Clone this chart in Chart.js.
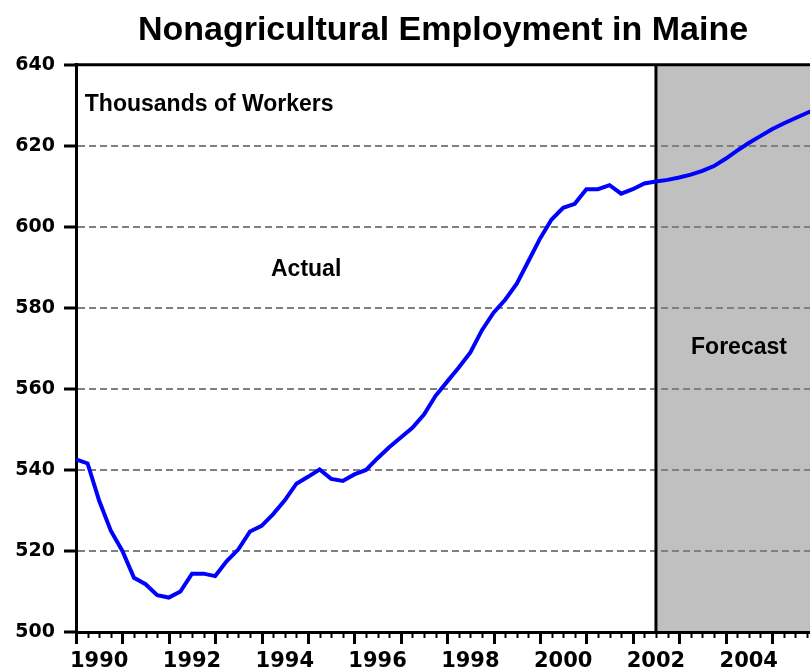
<!DOCTYPE html>
<html>
<head>
<meta charset="utf-8">
<title>Nonagricultural Employment in Maine</title>
<script src="https://cdn.jsdelivr.net/npm/chart.js@4"></script>
<style>
  html, body { margin: 0; padding: 0; background: #fff; }
</style>
</head>
<body>
<canvas id="empChart" width="810" height="671"></canvas>
<script>
// Maine nonfarm employment, quarterly, thousands of workers
const startYear = 1990;           // first quarter = 1990Q1
const actual = [
  542.6, 541.6, 532.4, 525.0, 520.0, 513.4, 511.8, 509.1, 508.5, 510.0,
  514.4, 514.4, 513.8, 517.5, 520.4, 524.8, 526.2, 529.1, 532.5, 536.6,
  538.3, 540.1, 537.8, 537.3, 538.9, 540.0, 542.9, 545.6, 548.0, 550.4,
  553.7, 558.3, 561.8, 565.3, 569.0, 574.5, 578.8, 582.0, 586.0, 591.5,
  597.1, 601.8, 604.7, 605.7, 609.3, 609.3, 610.3, 608.2, 609.3, 610.7,
  611.2
];
const forecast = [
  611.6, 612.2, 612.9, 613.8, 615.0, 616.8, 618.8, 620.7, 622.4, 624.1,
  625.5, 626.8, 628.1, 629.3
];
const xTickYears = [1990, 1992, 1994, 1996, 1998, 2000, 2002, 2004];
const yTicks = [500, 520, 540, 560, 580, 600, 620, 640];
const forecastStart = 2002.5;

const series = actual.concat(forecast);
const points = series.map((v, i) => ({ x: startYear + i / 4, y: v }));

const textFont = 'bold 23px "Liberation Sans", Arial, sans-serif';

const eviewsFrame = {
  id: 'eviewsFrame',
  beforeDraw(chart) {
    const { ctx, chartArea: a, scales: { x } } = chart;
    const fx = x.getPixelForValue(forecastStart);
    ctx.save();
    ctx.fillStyle = '#c0c0c0';
    ctx.fillRect(fx, a.top, a.right - fx, a.bottom - a.top);
    ctx.restore();
  },
  beforeDatasetsDraw(chart) {
    const { ctx, chartArea: a, scales: { x, y } } = chart;
    ctx.save();
    ctx.strokeStyle = '#000';
    // forecast divider
    const fx = x.getPixelForValue(forecastStart);
    ctx.lineWidth = 3;
    ctx.beginPath();
    ctx.moveTo(fx, a.top);
    ctx.lineTo(fx, a.bottom);
    ctx.stroke();
    // top frame line
    ctx.beginPath();
    ctx.moveTo(a.left - 1.5, a.top);
    ctx.lineTo(a.right, a.top);
    ctx.stroke();
    // quarterly tick marks, longer on each year
    for (let q = 0; ; q++) {
      const v = startYear + q / 4;
      if (v > x.max) break;
      const px = Math.round(x.getPixelForValue(v)) + 0.5;
      const len = q % 4 === 0 ? 12 : 6;
      ctx.lineWidth = q % 4 === 0 ? 3 : 2;
      ctx.beginPath();
      ctx.moveTo(px, a.bottom);
      ctx.lineTo(px, a.bottom + len);
      ctx.stroke();
    }
    // annotations
    ctx.fillStyle = '#000';
    ctx.font = textFont;
    ctx.textBaseline = 'alphabetic';
    ctx.textAlign = 'left';
    ctx.fillText('Thousands of Workers', x.getPixelForValue(1990.19), y.getPixelForValue(628.5));
    ctx.textAlign = 'center';
    ctx.fillText('Actual', x.getPixelForValue(1994.96), y.getPixelForValue(587.9));
    ctx.fillText('Forecast', x.getPixelForValue(2004.29), y.getPixelForValue(568.7));
    ctx.restore();
  },
  afterLayout(chart) {
    // EViews centres the title over the plot area
    if (chart.titleBlock) {
      chart.titleBlock.left = chart.chartArea.left;
      chart.titleBlock.right = chart.chartArea.right;
    }
  }
};

new Chart(document.getElementById('empChart'), {
  type: 'line',
  data: {
    datasets: [{
      label: 'Employment',
      data: points,
      borderColor: '#0000ff',
      borderWidth: 4,
      pointRadius: 0,
      tension: 0,
      fill: false
    }]
  },
  options: {
    responsive: false,
    animation: false,
    layout: { padding: { left: 14, right: 0, top: 0, bottom: 0 } },
    plugins: {
      legend: { display: false },
      tooltip: { enabled: false },
      title: {
        display: true,
        text: 'Nonagricultural Employment in Maine',
        color: '#000',
        font: { family: '"Liberation Sans", Arial, sans-serif', size: 34, weight: 'bold' },
        padding: { top: 10, bottom: 14 }
      }
    },
    scales: {
      x: {
        type: 'linear',
        min: 1990,
        max: 2005.82,
        afterBuildTicks: s => { s.ticks = xTickYears.map(yr => ({ value: yr + 0.5 })); },
        afterFit: s => { s.height = 39; },
        grid: { display: false, drawTicks: false },
        border: { display: true, color: '#000', width: 3 },
        ticks: {
          autoSkip: false,
          maxRotation: 0,
          padding: 17,
          color: '#000',
          font: { family: '"DejaVu Sans", sans-serif', size: 21, weight: 'bold' },
          callback: v => String(Math.floor(v))
        }
      },
      y: {
        min: 500,
        max: 640,
        afterBuildTicks: s => { s.ticks = yTicks.map(v => ({ value: v })); },
        afterFit: s => { s.width = 62; },
        grid: {
          color: c => (c.tick && (c.tick.value === 500 || c.tick.value === 640)) ? 'rgba(0,0,0,0)' : '#808080',
          lineWidth: 2,
          tickColor: '#000',
          tickWidth: 3,
          tickLength: 12
        },
        border: { display: true, color: '#000', width: 3, dash: [7, 4] },
        ticks: {
          padding: 9,
          color: '#000',
          font: { family: '"DejaVu Sans", sans-serif', size: 19, weight: 'bold' }
        }
      }
    }
  },
  plugins: [eviewsFrame]
});
</script>
</body>
</html>
